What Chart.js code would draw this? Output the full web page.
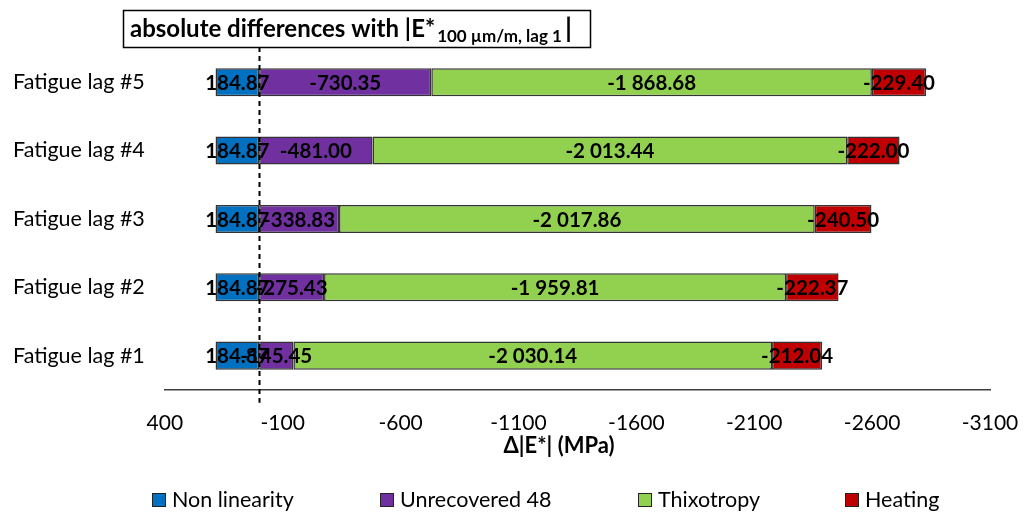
<!DOCTYPE html>
<html>
<head>
<meta charset="utf-8">
<script src="https://cdn.jsdelivr.net/npm/chart.js@4"></script>
<style>
  html, body { margin: 0; padding: 0; background: #fff; }
  #wrap { width: 1023px; height: 513px; }
</style>
</head>
<body>
<div id="wrap"><canvas id="myChart"></canvas></div>
<script>
// --- data ---
const categories = ['Fatigue lag #5', 'Fatigue lag #4', 'Fatigue lag #3', 'Fatigue lag #2', 'Fatigue lag #1'];
const nonLinearity = [184.87, 184.87, 184.87, 184.87, 184.87];
const unrecovered48 = [-730.35, -481.00, -338.83, -275.43, -145.45];
const thixotropy = [-1868.68, -2013.44, -2017.86, -1959.81, -2030.14];
const heating = [-229.40, -222.00, -240.50, -222.37, -212.04];
const xTicks = [400, -100, -600, -1100, -1600, -2100, -2600, -3100];

const FONT = 'Lato, "Open Sans", sans-serif';

function fmt(v) {
    const s = Math.abs(v).toFixed(2);
    let [i, d] = s.split('.');
    i = i.replace(/\B(?=(\d{3})+(?!\d))/g, ' ');
    return (v < 0 ? '-' : '') + i + '.' + d;
}

// title box + dashed zero line + bar labels + axis title + legend
const extras = {
    id: 'extras',
    afterDatasetsDraw(chart) {
        const c = chart.ctx;
        const xs = chart.scales.x;
        const x0 = Math.round(xs.getPixelForValue(0)) + 0.5;

        // dashed line at 0
        c.save();
        c.strokeStyle = '#000';
        c.lineWidth = 2;
        c.setLineDash([5, 4]);
        c.beginPath();
        c.moveTo(x0, 47);
        c.lineTo(x0, chart.chartArea.bottom + 13);
        c.stroke();
        c.restore();

        // labels on segments
        c.save();
        c.font = 'bold 20.5px ' + FONT;
        c.fillStyle = '#000';
        c.textAlign = 'center';
        c.textBaseline = 'middle';
        chart.data.datasets.forEach((ds, di) => {
            chart.getDatasetMeta(di).data.forEach((el, i) => {
                const p = el.getCenterPoint();
                c.fillText(fmt(ds.data[i]), p.x, p.y + 1);
            });
        });
        c.restore();

        // title box
        c.save();
        const bx = 123.5, by = 10.5, bw = 467, bh = 37;
        c.fillStyle = '#fff';
        c.fillRect(bx, by, bw, bh);
        c.strokeStyle = '#000';
        c.lineWidth = 1.5;
        c.strokeRect(bx, by, bw, bh);
        c.fillStyle = '#000';
        c.textBaseline = 'alphabetic';
        c.textAlign = 'left';
        let tx = 130;
        const base = 37;
        c.font = 'bold 24px ' + FONT;
        const t1 = 'absolute differences with |E*';
        c.fillText(t1, tx, base);
        tx += c.measureText(t1).width;
        c.font = 'bold 17px ' + FONT;
        const t2 = '100 µm/m, lag 1';
        c.fillText(t2, tx + 2, base + 5);
        tx += c.measureText(t2).width + 5;
        c.font = 'bold 27px ' + FONT;
        c.fillText('|', tx, base + 1);
        c.restore();

        // x axis title
        c.save();
        c.font = 'bold 22px ' + FONT;
        c.fillStyle = '#000';
        c.textAlign = 'center';
        c.textBaseline = 'middle';
        c.fillText('Δ|E*| (MPa)', 559, 446);
        c.restore();

        // legend
        c.save();
        const lx = [152, 380, 638, 845];
        const ly = 500;
        c.font = '21.5px ' + FONT;
        c.textBaseline = 'middle';
        c.textAlign = 'left';
        chart.data.datasets.forEach((ds, di) => {
            c.fillStyle = ds.backgroundColor;
            c.fillRect(lx[di] + 0.5, ly - 6.5, 13, 13);
            c.strokeStyle = '#222';
            c.lineWidth = 1;
            c.strokeRect(lx[di] + 0.5, ly - 6.5, 13, 13);
            c.fillStyle = '#000';
            c.fillText(ds.label, lx[di] + 20, ly);
        });
        c.restore();
    }
};

const ctx = document.getElementById('myChart');
new Chart(ctx, {
    type: 'bar',
    data: {
        labels: categories,
        datasets: [
            { label: 'Non linearity', data: nonLinearity, backgroundColor: '#0070C0' },
            { label: 'Unrecovered 48', data: unrecovered48, backgroundColor: '#7030A0' },
            { label: 'Thixotropy', data: thixotropy, backgroundColor: '#92D050' },
            { label: 'Heating', data: heating, backgroundColor: '#C00000' }
        ].map(d => Object.assign(d, {
            borderColor: '#333',
            borderWidth: 1.5,
            borderSkipped: false,
            categoryPercentage: 1,
            barPercentage: 0.41
        }))
    },
    options: {
        indexAxis: 'y',
        responsive: true,
        maintainAspectRatio: false,
        animation: false,
        layout: { padding: { top: 48, left: -7, right: 33, bottom: 56 } },
        scales: {
            x: {
                stacked: true,
                reverse: true,
                min: -3100,
                max: 400,
                afterBuildTicks: s => { s.ticks = xTicks.map(v => ({ value: v })); },
                afterFit: s => { s.paddingLeft = 0; s.paddingRight = 0; },
                ticks: {
                    color: '#000',
                    font: { family: FONT, size: 21 },
                    padding: 21,
                    maxRotation: 0,
                    callback: v => String(v)
                },
                grid: { display: false, drawTicks: false },
                border: { display: true, color: '#404040', width: 1.5 },
                title: { display: false }
            },
            y: {
                stacked: true,
                ticks: { color: '#000', font: { family: FONT, size: 21.5 }, padding: 20, autoSkip: false },
                grid: { display: false, drawTicks: false },
                border: { display: false }
            }
        },
        plugins: {
            legend: { display: false },
            tooltip: { enabled: false }
        }
    },
    plugins: [extras]
});
</script>
</body>
</html>
